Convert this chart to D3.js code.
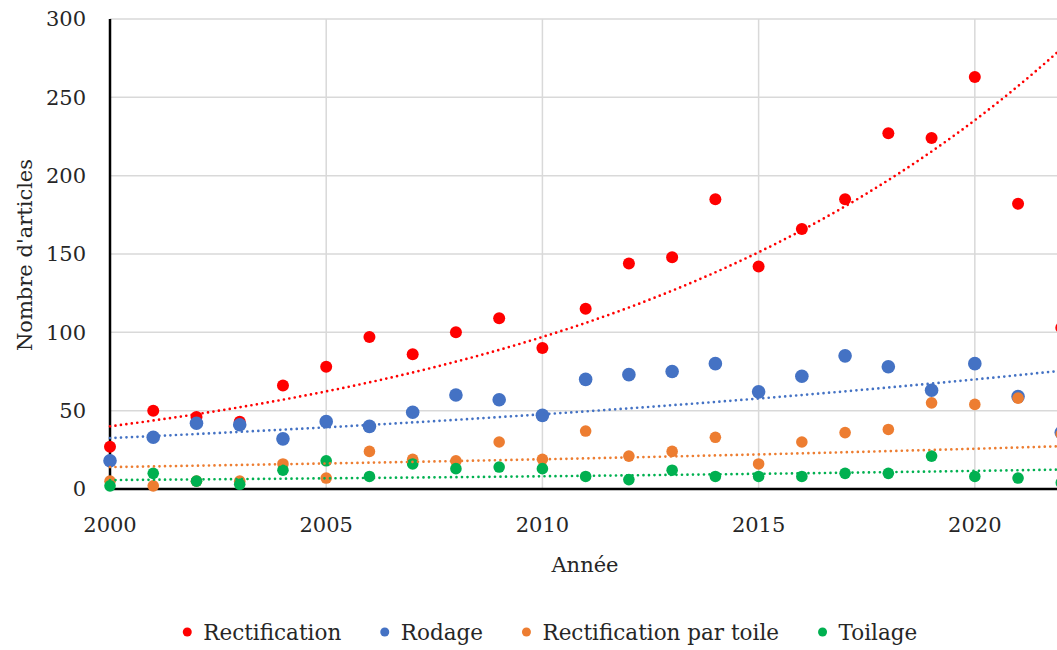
<!DOCTYPE html>
<html>
<head>
<meta charset="utf-8">
<script src="https://cdn.jsdelivr.net/npm/d3@7"></script>
<style>
  body { margin: 0; background: #fff; }
  text { font-family: "DejaVu Serif", serif; fill: #262626; }
</style>
</head>
<body>
<svg id="chart"></svg>
<script>
var years = [2000, 2001, 2002, 2003, 2004, 2005, 2006, 2007, 2008, 2009, 2010, 2011,
             2012, 2013, 2014, 2015, 2016, 2017, 2018, 2019, 2020, 2021, 2022];
var rectification = [27, 50, 46, 43, 66, 78, 97, 86, 100, 109, 90, 115, 144, 148, 185, 142, 166, 185, 227, 224, 263, 182, 103];
var rodage = [18, 33, 42, 41, 32, 43, 40, 49, 60, 57, 47, 70, 73, 75, 80, 62, 72, 85, 78, 63, 80, 59, 36];
var rectifToile = [5, 2, 5, 5, 16, 7, 24, 19, 18, 30, 19, 37, 21, 24, 33, 16, 30, 36, 38, 55, 54, 58, 35];
var toilage = [2, 10, 5, 3, 12, 18, 8, 16, 13, 14, 13, 8, 6, 12, 8, 8, 8, 10, 10, 21, 8, 7, 4];
var seriesNames = ["Rectification", "Rodage", "Rectification par toile", "Toilage"];
// exponential trendline values, at 2000 and at 2022
var trendStart = [40, 32.5, 14, 5.7];
var trendEnd = [281, 75.5, 27.3, 12.4];
var yTicks = [0, 50, 100, 150, 200, 250, 300];
var xTicks = [2000, 2005, 2010, 2015, 2020];

var width = 1057, height = 650;
var colors = ["#ff0000", "#4472c4", "#ed7d31", "#00b050"];
var radii = [6, 6.8, 5.8, 5.8];
var seriesData = [rectification, rodage, rectifToile, toilage];

var svg = d3.select('#chart').attr("width", width).attr("height", height);

var x = d3.scaleLinear().domain([2000, 2022]).range([110, 1061.3]);
var y = d3.scaleLinear().domain([0, 300]).range([489, 19]);

// grid
svg.append("g").selectAll("line").data(yTicks.slice(1)).enter().append("line")
   .attr("x1", x(2000)).attr("x2", width)
   .attr("y1", function(d) { return y(d); }).attr("y2", function(d) { return y(d); })
   .attr("stroke", "#d9d9d9").attr("stroke-width", 1.5);
svg.append("g").selectAll("line").data(xTicks.slice(1)).enter().append("line")
   .attr("x1", function(d) { return x(d); }).attr("x2", function(d) { return x(d); })
   .attr("y1", y(300)).attr("y2", y(0))
   .attr("stroke", "#d9d9d9").attr("stroke-width", 1.5);

// axes
svg.append("line").attr("x1", x(2000)).attr("x2", width).attr("y1", y(0)).attr("y2", y(0))
   .attr("stroke", "#000").attr("stroke-width", 2.5);
svg.append("line").attr("x1", x(2000)).attr("x2", x(2000)).attr("y1", y(300)).attr("y2", y(0) + 1)
   .attr("stroke", "#000").attr("stroke-width", 2.5);

svg.append("g").selectAll("text").data(yTicks).enter().append("text")
   .attr("x", 86).attr("y", function(d) { return y(d); }).attr("dy", "0.35em")
   .attr("text-anchor", "end").style("font-size", "21px")
   .text(function(d) { return d; });
svg.append("g").selectAll("text").data(xTicks).enter().append("text")
   .attr("x", function(d) { return x(d); }).attr("y", 532)
   .attr("text-anchor", "middle").style("font-size", "21px")
   .text(function(d) { return d; });

svg.append("text").attr("x", 585).attr("y", 572).attr("text-anchor", "middle")
   .style("font-size", "21px").text("Année");
svg.append("text").attr("transform", "translate(32,255) rotate(-90)").attr("text-anchor", "middle")
   .style("font-size", "21px").text("Nombre d'articles");

// markers, in series order
seriesData.forEach(function(vals, i) {
  svg.append("g").selectAll("circle").data(vals).enter().append("circle")
     .attr("cx", function(d, j) { return x(years[j]); })
     .attr("cy", function(d) { return y(d); })
     .attr("r", radii[i])
     .attr("fill", colors[i]);
});

// exponential trendlines through the two read values
var line = d3.line().x(function(d) { return x(d[0]); }).y(function(d) { return y(d[1]); });
seriesData.forEach(function(vals, i) {
  var b = Math.log(trendEnd[i] / trendStart[i]) / 22;
  var pts = d3.range(2000, 2022.01, 0.25).map(function(t) {
    return [t, trendStart[i] * Math.exp(b * (t - 2000))];
  });
  svg.append("path").datum(pts).attr("d", line)
     .attr("fill", "none").attr("stroke", colors[i]).attr("stroke-width", 2.7)
     .attr("stroke-linecap", "round").attr("stroke-dasharray", "0 5.5");
});

// legend
var legend = svg.append("g");
var cursor = 0;
seriesNames.forEach(function(name, i) {
  var item = legend.append("g").attr("transform", "translate(" + cursor + ",0)");
  item.append("circle").attr("cx", 4.5).attr("cy", 632).attr("r", 4.5).attr("fill", colors[i]);
  var t = item.append("text").attr("x", 20.5).attr("y", 632).attr("dy", "0.35em")
              .style("font-size", "21.5px").text(name);
  cursor += 20.5 + t.node().getComputedTextLength() + 39;
});
var legendWidth = cursor - 39;
legend.attr("transform", "translate(" + (550 - legendWidth / 2) + ",0)");
</script>
</body>
</html>
